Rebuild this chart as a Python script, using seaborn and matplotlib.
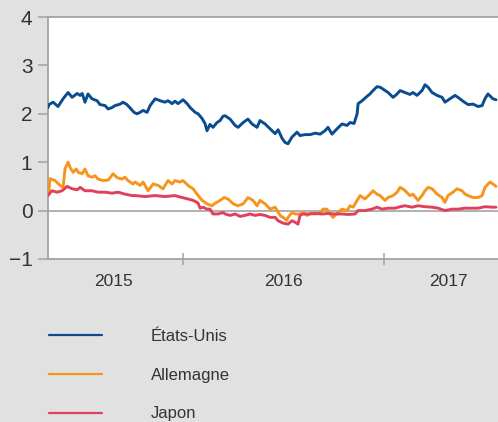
import numpy as np
import pandas as pd
import matplotlib
matplotlib.use("Agg")
import matplotlib.pyplot as plt
import seaborn as sns
from matplotlib.lines import Line2D
from matplotlib.ticker import FixedLocator, FixedFormatter, NullFormatter

# ---------------- data (decimal years, yields in %) ----------------
series_names = ["États-Unis", "Allemagne", "Japon"]
series_colors = ["#0b4c8f", "#f7941d", "#e0405a"]

us_t = [2015.328, 2015.333, 2015.353, 2015.378, 2015.403, 2015.428, 2015.448, 2015.473, 2015.488, 2015.498,
        2015.512, 2015.527, 2015.547, 2015.572, 2015.587, 2015.612, 2015.627, 2015.647, 2015.662, 2015.687,
        2015.701, 2015.721, 2015.741, 2015.756, 2015.771, 2015.786, 2015.801, 2015.821, 2015.836, 2015.861,
        2015.886, 2015.910, 2015.925, 2015.945, 2015.960, 2015.975, 2016.000, 2016.020, 2016.035, 2016.060,
        2016.075, 2016.095, 2016.109, 2016.119, 2016.134, 2016.149, 2016.169, 2016.184, 2016.199, 2016.209,
        2016.234, 2016.259, 2016.274, 2016.299, 2016.323, 2016.343, 2016.368, 2016.383, 2016.408, 2016.433,
        2016.458, 2016.473, 2016.493, 2016.507, 2016.522, 2016.542, 2016.567, 2016.582, 2016.607, 2016.632,
        2016.657, 2016.682, 2016.706, 2016.721, 2016.741, 2016.766, 2016.791, 2016.816, 2016.831, 2016.851,
        2016.866, 2016.871, 2016.891, 2016.915, 2016.930, 2016.945, 2016.965, 2016.980, 2016.995, 2017.020,
        2017.045, 2017.065, 2017.080, 2017.104, 2017.129, 2017.144, 2017.164, 2017.189, 2017.204, 2017.219,
        2017.239, 2017.264, 2017.289, 2017.303, 2017.328, 2017.353, 2017.368, 2017.393, 2017.418, 2017.443,
        2017.468, 2017.488, 2017.502, 2017.517, 2017.542, 2017.557]
us_v = [2.13, 2.19, 2.24, 2.15, 2.31, 2.44, 2.34, 2.42, 2.38, 2.42,
        2.24, 2.41, 2.31, 2.27, 2.19, 2.17, 2.10, 2.13, 2.17, 2.20,
        2.24, 2.19, 2.10, 2.03, 2.00, 2.03, 2.07, 2.03, 2.17, 2.31,
        2.27, 2.24, 2.27, 2.21, 2.26, 2.21, 2.29, 2.21, 2.13, 2.03,
        2.00, 1.90, 1.80, 1.65, 1.78, 1.72, 1.82, 1.86, 1.95, 1.96,
        1.89, 1.76, 1.72, 1.82, 1.89, 1.79, 1.72, 1.86, 1.79, 1.69,
        1.59, 1.67, 1.49, 1.41, 1.38, 1.52, 1.62, 1.55, 1.57, 1.57,
        1.60, 1.58, 1.65, 1.72, 1.58, 1.69, 1.79, 1.76, 1.82, 1.80,
        2.00, 2.21, 2.27, 2.36, 2.41, 2.48, 2.56, 2.55, 2.51, 2.44,
        2.34, 2.41, 2.48, 2.44, 2.40, 2.44, 2.38, 2.48, 2.60, 2.55,
        2.44, 2.38, 2.34, 2.24, 2.31, 2.38, 2.34, 2.26, 2.19, 2.20,
        2.15, 2.17, 2.31, 2.41, 2.31, 2.29]

de_t = [2015.328, 2015.333, 2015.338, 2015.363, 2015.388, 2015.403, 2015.413, 2015.428, 2015.438, 2015.453,
        2015.468, 2015.478, 2015.498, 2015.512, 2015.527, 2015.547, 2015.562, 2015.577, 2015.602, 2015.627,
        2015.652, 2015.672, 2015.697, 2015.711, 2015.726, 2015.751, 2015.761, 2015.786, 2015.801, 2015.826,
        2015.851, 2015.876, 2015.900, 2015.925, 2015.945, 2015.960, 2015.985, 2016.000, 2016.025, 2016.050,
        2016.075, 2016.095, 2016.119, 2016.144, 2016.159, 2016.184, 2016.204, 2016.224, 2016.249, 2016.274,
        2016.299, 2016.323, 2016.348, 2016.368, 2016.383, 2016.408, 2016.433, 2016.458, 2016.483, 2016.507,
        2016.517, 2016.522, 2016.542, 2016.557, 2016.582, 2016.597, 2016.617, 2016.637, 2016.657, 2016.682,
        2016.697, 2016.716, 2016.731, 2016.746, 2016.771, 2016.791, 2016.816, 2016.831, 2016.846, 2016.866,
        2016.881, 2016.905, 2016.930, 2016.945, 2016.965, 2016.980, 2017.005, 2017.020, 2017.045, 2017.065,
        2017.080, 2017.100, 2017.129, 2017.144, 2017.169, 2017.189, 2017.204, 2017.219, 2017.239, 2017.264,
        2017.289, 2017.303, 2017.318, 2017.343, 2017.363, 2017.388, 2017.403, 2017.418, 2017.443, 2017.468,
        2017.488, 2017.502, 2017.527, 2017.542, 2017.557]
de_v = [0.37, 0.41, 0.66, 0.62, 0.52, 0.48, 0.87, 1.00, 0.89, 0.79,
        0.86, 0.79, 0.76, 0.86, 0.72, 0.69, 0.72, 0.65, 0.62, 0.63,
        0.76, 0.68, 0.65, 0.69, 0.62, 0.55, 0.59, 0.52, 0.59, 0.41,
        0.55, 0.52, 0.45, 0.62, 0.55, 0.62, 0.59, 0.62, 0.52, 0.45,
        0.31, 0.21, 0.14, 0.10, 0.15, 0.21, 0.27, 0.24, 0.14, 0.10,
        0.14, 0.27, 0.21, 0.10, 0.21, 0.14, 0.03, 0.07, -0.10, -0.17,
        -0.20, -0.14, -0.04, -0.07, -0.07, -0.04, -0.10, -0.06, -0.07, -0.04,
        0.03, 0.03, -0.07, -0.14, -0.04, 0.03, 0.00, 0.10, 0.07, 0.21,
        0.31, 0.24, 0.34, 0.41, 0.34, 0.31, 0.21, 0.27, 0.31, 0.38,
        0.48, 0.43, 0.31, 0.34, 0.21, 0.31, 0.41, 0.48, 0.45, 0.34,
        0.27, 0.17, 0.31, 0.38, 0.45, 0.41, 0.34, 0.31, 0.27, 0.27,
        0.31, 0.48, 0.59, 0.55, 0.50]

jp_t = [2015.328, 2015.333, 2015.348, 2015.373, 2015.398, 2015.423, 2015.448, 2015.473, 2015.488, 2015.512,
        2015.547, 2015.577, 2015.612, 2015.647, 2015.677, 2015.711, 2015.746, 2015.761, 2015.811, 2015.861,
        2015.910, 2015.960, 2015.995, 2016.025, 2016.050, 2016.070, 2016.075, 2016.085, 2016.100, 2016.119,
        2016.134, 2016.149, 2016.174, 2016.199, 2016.209, 2016.234, 2016.259, 2016.284, 2016.308, 2016.333,
        2016.358, 2016.383, 2016.408, 2016.433, 2016.458, 2016.473, 2016.498, 2016.522, 2016.542, 2016.557,
        2016.572, 2016.582, 2016.597, 2016.622, 2016.657, 2016.692, 2016.721, 2016.756, 2016.791, 2016.821,
        2016.856, 2016.871, 2016.905, 2016.940, 2016.965, 2016.990, 2017.020, 2017.055, 2017.080, 2017.104,
        2017.139, 2017.169, 2017.204, 2017.239, 2017.269, 2017.303, 2017.338, 2017.368, 2017.403, 2017.438,
        2017.468, 2017.502, 2017.537, 2017.557]
jp_v = [0.31, 0.34, 0.41, 0.38, 0.41, 0.50, 0.45, 0.43, 0.48, 0.41,
        0.41, 0.38, 0.38, 0.36, 0.38, 0.34, 0.31, 0.31, 0.29, 0.31,
        0.29, 0.31, 0.27, 0.24, 0.21, 0.17, 0.15, 0.05, 0.07, 0.03,
        0.03, -0.07, -0.07, -0.04, -0.07, -0.10, -0.07, -0.12, -0.10, -0.07,
        -0.10, -0.08, -0.10, -0.14, -0.14, -0.21, -0.26, -0.28, -0.21, -0.24,
        -0.28, -0.10, -0.07, -0.07, -0.06, -0.07, -0.06, -0.07, -0.07, -0.08,
        -0.07, 0.00, 0.00, 0.03, 0.07, 0.03, 0.05, 0.05, 0.08, 0.10,
        0.07, 0.10, 0.08, 0.07, 0.05, 0.00, 0.03, 0.03, 0.05, 0.05,
        0.05, 0.08, 0.07, 0.07]

year_boundaries = [2016, 2017]
year_label_pos = [2015.655, 2016.5, 2017.318]
year_labels = ["2015", "2016", "2017"]
y_ticks = [-1, 0, 1, 2, 3, 4]
y_tick_labels = ["\u22121", "0", "1", "2", "3", "4"]

# ---------------- build long table ----------------
df = pd.concat([
    pd.DataFrame({"t": us_t, "v": us_v, "pays": series_names[0]}),
    pd.DataFrame({"t": de_t, "v": de_v, "pays": series_names[1]}),
    pd.DataFrame({"t": jp_t, "v": jp_v, "pays": series_names[2]}),
], ignore_index=True)

sns.set_style("white")
plt.rcParams["font.family"] = ["Liberation Sans", "DejaVu Sans"]

BG = "#e1e1e1"
GRID = "#a3a3a3"
TXT = "#333333"

fig = plt.figure(figsize=(4.98, 4.22), dpi=100, facecolor=BG)
ax = fig.add_axes([0.0964, 0.3863, 0.9036, 0.5734])
ax.set_facecolor("white")

ax.axhline(0, color=GRID, lw=1.2, zorder=1)
palette = dict(zip(series_names, series_colors))
sns.lineplot(data=df, x="t", y="v", hue="pays", palette=palette,
             estimator=None, sort=True, lw=2.1, legend=False, ax=ax, zorder=3)

ax.set_xlim(2015.328, 2017.567)
ax.set_ylim(-1, 4)
ax.set_xlabel("")
ax.set_ylabel("")

for s in ["left", "bottom", "top"]:
    ax.spines[s].set_color(GRID)
    ax.spines[s].set_linewidth(1.3)
ax.spines["right"].set_visible(False)

ax.yaxis.set_major_locator(FixedLocator(y_ticks))
ax.yaxis.set_major_formatter(FixedFormatter(y_tick_labels))
ax.tick_params(axis="y", which="major", direction="out", length=7.2, width=1.1,
               color=GRID, pad=4, labelsize=15, labelcolor=TXT, left=True)

ax.xaxis.set_major_locator(FixedLocator(year_boundaries))
ax.xaxis.set_major_formatter(NullFormatter())
ax.xaxis.set_minor_locator(FixedLocator(year_label_pos))
ax.xaxis.set_minor_formatter(FixedFormatter(year_labels))
ax.tick_params(axis="x", which="major", direction="inout", length=8.6, width=1.1,
               color=GRID, bottom=True)
ax.tick_params(axis="x", which="minor", length=0, pad=11, labelsize=12.5,
               labelcolor=TXT, bottom=True)

handles = [Line2D([], [], color=c, lw=1.6) for c in series_colors]
leg = fig.legend(handles, series_names, loc="upper left",
                 bbox_to_anchor=(0.098, 0.220), frameon=False,
                 borderpad=0, borderaxespad=0, handlelength=3.2,
                 handletextpad=2.9, labelspacing=1.42, fontsize=12)
for t in leg.get_texts():
    t.set_color(TXT)

fig.savefig("out.png", dpi=100, facecolor=BG)
